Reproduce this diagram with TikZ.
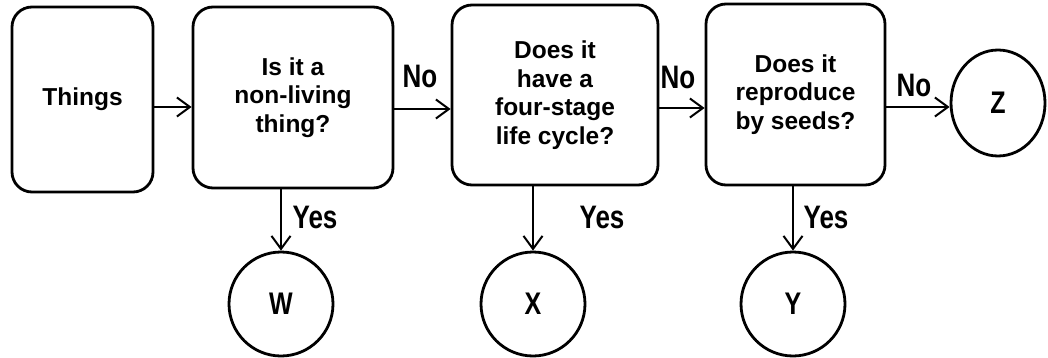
\documentclass[tikz,border=0pt]{standalone}
\usepackage{fontspec}
\setmainfont{Liberation Sans}
\usetikzlibrary{arrows.meta,shapes.geometric}
\tikzset{
  qbox/.style={draw, line width=2.8pt, rounded corners=20pt, align=center, inner sep=0pt,
    font=\bfseries\fontsize{24.5}{28.5}\selectfont},
  endc/.style={draw, line width=2.8pt, circle, minimum size=104pt, inner sep=0pt,
    font=\bfseries\fontsize{25}{28}\selectfont},
  arr/.style={line width=2pt, -{Straight Barb[length=13pt,width=19pt,line width=2pt]}},
  lbl/.style={inner sep=0pt, font=\bfseries\fontsize{26}{28}\selectfont},
}
\newcommand{\tall}[1]{\scalebox{1}[1.25]{#1}}
\begin{document}
\begin{tikzpicture}[x=1pt,y=-1pt]
\useasboundingbox (0,0) rectangle (1048,358);
\node[qbox, minimum width=141pt, minimum height=185pt] (things) at (82.5,99.5) {Things};
\node[qbox, minimum width=200pt, minimum height=181pt] (q1) at (293,97.5) {Is it a\\non-living\\thing?};
\node[qbox, minimum width=206pt, minimum height=180pt] (q2) at (555,95) {Does it\\have a\\four-stage\\life cycle?};
\node[qbox, minimum width=179pt, minimum height=181pt] (q3) at (795.5,94.5) {Does it\\reproduce\\by seeds?};
\node[endc, ellipse, minimum width=94pt, minimum height=106pt] (z) at (998,103) {\tall{Z}};
\node[endc] (w) at (281,304) {\tall{W}};
\node[endc] (x) at (533,304) {\tall{X}};
\node[endc] (y) at (793,304) {\tall{Y}};

\draw[arr] (things.east |- 0,107) -- (q1.west |- 0,107);
\draw[arr] (q1.east |- 0,109) -- (q2.west |- 0,109);
\draw[arr] (q2.east |- 0,108) -- (q3.west |- 0,108);
\draw[arr] (q3.east |- 0,107) -- (z.west |- 0,107);
\draw[arr] (w.north |- q1.south) -- (w.north);
\draw[arr] (x.north |- q2.south) -- (x.north);
\draw[arr] (y.north |- q3.south) -- (y.north);

\node[lbl] (no1) at (420,76) {\tall{No}};
\node[lbl] (no2) at (678,77) {\tall{No}};
\node[lbl] (no3) at (914,85) {\tall{No}};
\node[lbl] (yes1) at (315,217) {\tall{Yes}};
\node[lbl] (yes2) at (602,217) {\tall{Yes}};
\node[lbl] (yes3) at (826,217) {\tall{Yes}};
\end{tikzpicture}
\end{document}
